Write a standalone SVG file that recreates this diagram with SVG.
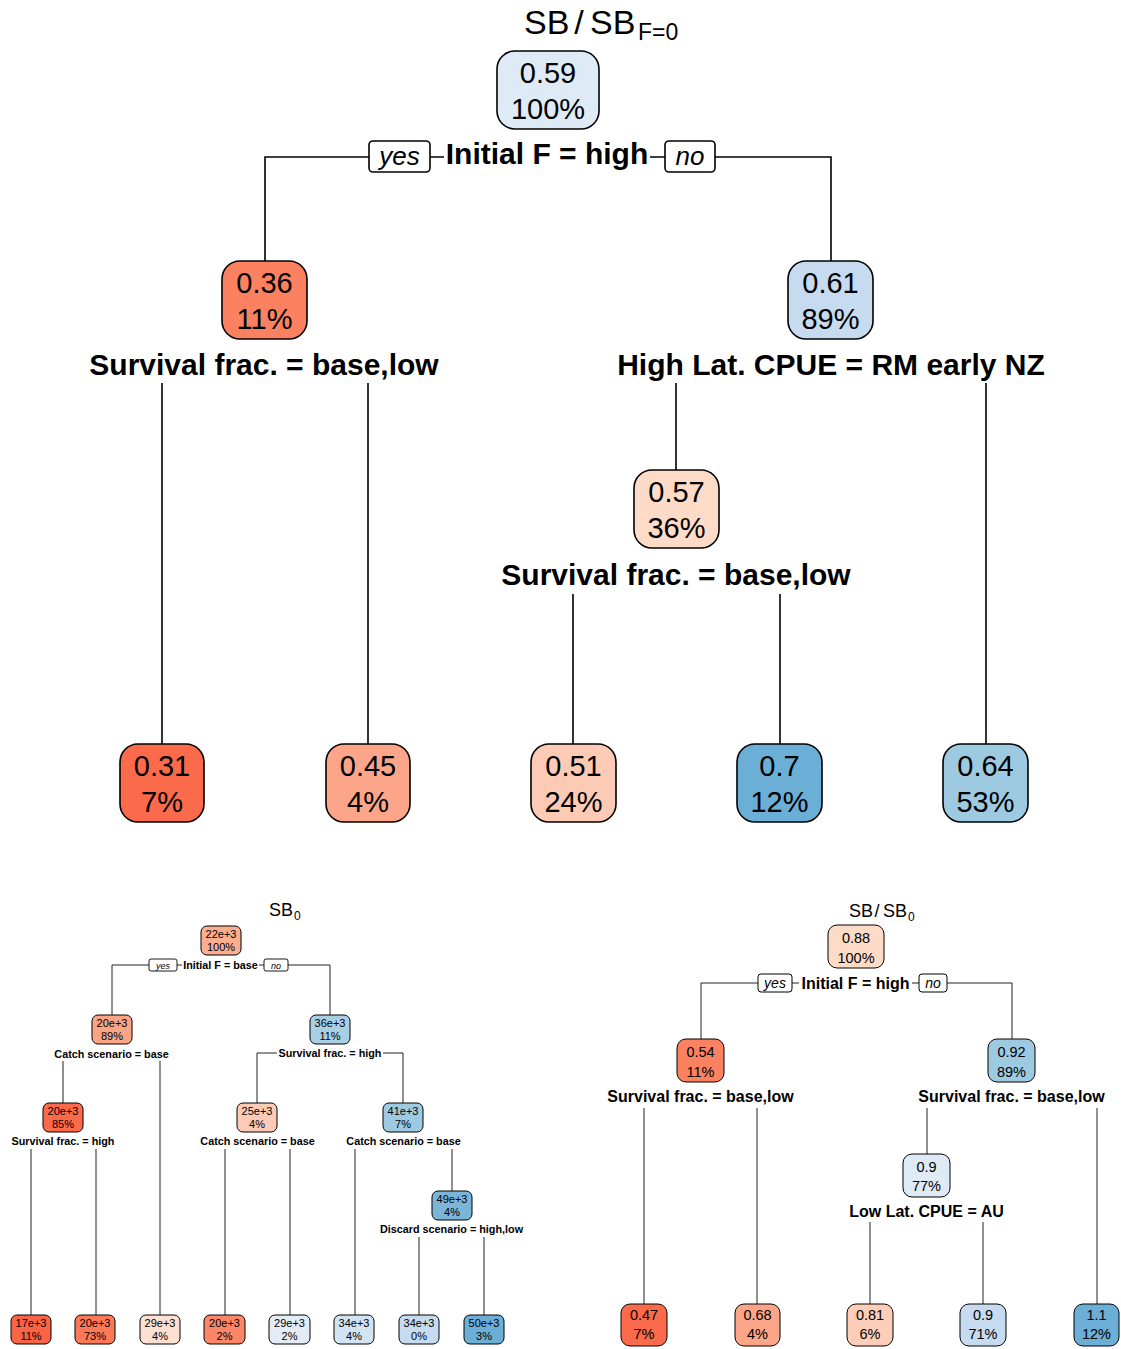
<svg xmlns="http://www.w3.org/2000/svg" width="1121" height="1349" viewBox="0 0 1121 1349">
<style>
text{font-family:"Liberation Sans",Arial,sans-serif;fill:#000}
.c{text-anchor:middle}
.nb rect{stroke:#000;stroke-width:1.6}
.ns rect{stroke:#000;stroke-width:1}
.n1{font-size:29px}
.n2{font-size:11px}
.n3{font-size:14.5px}
.l1{font-size:30px;font-weight:bold}
.l2{font-size:10.8px;font-weight:bold}
.l3{font-size:16px;font-weight:bold}
.yn rect{fill:#fff;stroke:#000}
.yn text{font-style:italic;text-anchor:middle}
.e1 path{fill:none;stroke:#000;stroke-width:1.6}
.e2 path{fill:none;stroke:#222;stroke-width:1}
</style>

<!-- ===== Main tree ===== -->
<g id="title-main">
<text x="524" y="34" font-size="34">SB</text>
<text x="579" y="34" font-size="34" class="c">/</text>
<text x="590" y="34" font-size="34">SB</text>
<text x="638" y="40" font-size="23">F=0</text>
</g>

<g class="e1" id="connectors-main">
<path d="M265 261V157H369M430 157H444M650 157H665M715 157H831V261"/>
<path d="M162 383V744M368 383V744M676 383V470M986 383V744M573 594V744M780 594V744"/>
</g>

<g class="yn" id="yesno-main">
<rect x="369" y="141" width="61" height="31" rx="4" stroke-width="1.6"/>
<text x="399.5" y="165" font-size="26">yes</text>
<rect x="665" y="141" width="50" height="31" rx="4" stroke-width="1.6"/>
<text x="690" y="165" font-size="26">no</text>
</g>

<g id="m-root" class="nb n1">
<rect x="497" y="51" width="102" height="78" rx="18" fill="#DEEBF7"/>
<text x="548" y="83" class="c">0.59</text><text x="548" y="119" class="c">100%</text>
</g>
<text id="m-split1" x="547" y="164" class="c l1">Initial F = high</text>

<g id="m-n2" class="nb n1">
<rect x="222" y="261" width="85" height="78" rx="18" fill="#FC8161"/>
<text x="264.5" y="293" class="c">0.36</text><text x="264.5" y="329" class="c">11%</text>
</g>
<g id="m-n3" class="nb n1">
<rect x="788" y="261" width="85" height="78" rx="18" fill="#C6DBEF"/>
<text x="830.5" y="293" class="c">0.61</text><text x="830.5" y="329" class="c">89%</text>
</g>
<text x="264" y="375" class="c l1">Survival frac. = base,low</text>
<text x="831" y="375" class="c l1">High Lat. CPUE = RM early NZ</text>

<g id="m-n6" class="nb n1">
<rect x="634" y="470" width="85" height="78" rx="18" fill="#FDDBC7"/>
<text x="676.5" y="502" class="c">0.57</text><text x="676.5" y="538" class="c">36%</text>
</g>
<text x="676" y="585" class="c l1">Survival frac. = base,low</text>

<g id="m-leaf1" class="nb n1">
<rect x="120" y="744" width="84" height="78" rx="18" fill="#FB6A4A"/>
<text x="162" y="776" class="c">0.31</text><text x="162" y="812" class="c">7%</text>
</g>
<g id="m-leaf2" class="nb n1">
<rect x="326" y="744" width="84" height="78" rx="18" fill="#FCA588"/>
<text x="368" y="776" class="c">0.45</text><text x="368" y="812" class="c">4%</text>
</g>
<g id="m-leaf3" class="nb n1">
<rect x="531" y="744" width="85" height="78" rx="18" fill="#FDCBB5"/>
<text x="573.5" y="776" class="c">0.51</text><text x="573.5" y="812" class="c">24%</text>
</g>
<g id="m-leaf4" class="nb n1">
<rect x="737" y="744" width="85" height="78" rx="18" fill="#6BAED6"/>
<text x="779.5" y="776" class="c">0.7</text><text x="779.5" y="812" class="c">12%</text>
</g>
<g id="m-leaf5" class="nb n1">
<rect x="943" y="744" width="85" height="78" rx="18" fill="#9ECAE1"/>
<text x="985.5" y="776" class="c">0.64</text><text x="985.5" y="812" class="c">53%</text>
</g>

<!-- ===== Bottom-left tree (SB0) ===== -->
<g id="title-sb0">
<text x="269" y="916" font-size="18">SB</text>
<text x="294" y="920" font-size="12">0</text>
</g>

<g class="e2" id="connectors-sb0">
<path d="M112 1015V965H149M177 965H182M259 965H264M288 965H330V1015"/>
<path d="M63 1061V1103M160 1061V1315"/>
<path d="M257 1103V1053H277M383 1053H403V1103"/>
<path d="M31 1149V1315M96 1149V1315M225 1149V1315M290 1149V1315M355 1149V1315M452 1149V1191"/>
<path d="M419 1237V1315M484 1237V1315"/>
</g>

<g class="yn" id="yesno-sb0">
<rect x="149" y="959" width="28" height="12" rx="2" stroke-width="0.9"/>
<text x="163" y="968.5" font-size="9">yes</text>
<rect x="264" y="959" width="24" height="12" rx="2" stroke-width="0.9"/>
<text x="276" y="968.5" font-size="9">no</text>
</g>

<g id="b-root" class="ns n2">
<rect x="201" y="926" width="40" height="29" rx="6" fill="#FCAE91"/>
<text x="221" y="937.5" class="c">22e+3</text><text x="221" y="951" class="c">100%</text>
</g>
<text x="220.5" y="969" class="c l2">Initial F = base</text>

<g id="b-n2" class="ns n2">
<rect x="92" y="1015" width="40" height="29" rx="6" fill="#FCA486"/>
<text x="112" y="1026.5" class="c">20e+3</text><text x="112" y="1040" class="c">89%</text>
</g>
<g id="b-n3" class="ns n2">
<rect x="310" y="1015" width="40" height="29" rx="6" fill="#A9CFE5"/>
<text x="330" y="1026.5" class="c">36e+3</text><text x="330" y="1040" class="c">11%</text>
</g>
<text x="111.5" y="1058" class="c l2">Catch scenario = base</text>
<text x="330" y="1057" class="c l2">Survival frac. = high</text>

<g id="b-n4" class="ns n2">
<rect x="43" y="1103" width="40" height="29" rx="6" fill="#FB6A4A"/>
<text x="63" y="1114.5" class="c">20e+3</text><text x="63" y="1128" class="c">85%</text>
</g>
<g id="b-n6" class="ns n2">
<rect x="237" y="1103" width="40" height="29" rx="6" fill="#FDCAB5"/>
<text x="257" y="1114.5" class="c">25e+3</text><text x="257" y="1128" class="c">4%</text>
</g>
<g id="b-n7" class="ns n2">
<rect x="383" y="1103" width="40" height="29" rx="6" fill="#9ECAE1"/>
<text x="403" y="1114.5" class="c">41e+3</text><text x="403" y="1128" class="c">7%</text>
</g>
<text x="63" y="1145" class="c l2">Survival frac. = high</text>
<text x="257.5" y="1145" class="c l2">Catch scenario = base</text>
<text x="403.5" y="1145" class="c l2">Catch scenario = base</text>

<g id="b-n15" class="ns n2">
<rect x="432" y="1191" width="40" height="29" rx="6" fill="#7BB6D9"/>
<text x="452" y="1202.5" class="c">49e+3</text><text x="452" y="1216" class="c">4%</text>
</g>
<text x="451.5" y="1233" class="c l2">Discard scenario = high,low</text>

<g id="b-leaf1" class="ns n2">
<rect x="11" y="1315" width="40" height="29" rx="6" fill="#FA6446"/>
<text x="31" y="1326.5" class="c">17e+3</text><text x="31" y="1340" class="c">11%</text>
</g>
<g id="b-leaf2" class="ns n2">
<rect x="75" y="1315" width="40" height="29" rx="6" fill="#FB7858"/>
<text x="95" y="1326.5" class="c">20e+3</text><text x="95" y="1340" class="c">73%</text>
</g>
<g id="b-leaf3" class="ns n2">
<rect x="140" y="1315" width="40" height="29" rx="6" fill="#FEE0D2"/>
<text x="160" y="1326.5" class="c">29e+3</text><text x="160" y="1340" class="c">4%</text>
</g>
<g id="b-leaf4" class="ns n2">
<rect x="204" y="1315" width="41" height="29" rx="6" fill="#FC8666"/>
<text x="224.5" y="1326.5" class="c">20e+3</text><text x="224.5" y="1340" class="c">2%</text>
</g>
<g id="b-leaf5" class="ns n2">
<rect x="269" y="1315" width="41" height="29" rx="6" fill="#E1ECF7"/>
<text x="289.5" y="1326.5" class="c">29e+3</text><text x="289.5" y="1340" class="c">2%</text>
</g>
<g id="b-leaf6" class="ns n2">
<rect x="334" y="1315" width="40" height="29" rx="6" fill="#D2E3F3"/>
<text x="354" y="1326.5" class="c">34e+3</text><text x="354" y="1340" class="c">4%</text>
</g>
<g id="b-leaf7" class="ns n2">
<rect x="399" y="1315" width="40" height="29" rx="6" fill="#C6DBEF"/>
<text x="419" y="1326.5" class="c">34e+3</text><text x="419" y="1340" class="c">0%</text>
</g>
<g id="b-leaf8" class="ns n2">
<rect x="464" y="1315" width="40" height="29" rx="6" fill="#6BAED6"/>
<text x="484" y="1326.5" class="c">50e+3</text><text x="484" y="1340" class="c">3%</text>
</g>

<!-- ===== Bottom-right tree (SB/SB0) ===== -->
<g id="title-sbsb0">
<text x="849" y="917" font-size="18">SB</text>
<text x="877" y="917" font-size="18" class="c">/</text>
<text x="883" y="917" font-size="18">SB</text>
<text x="908" y="921" font-size="12">0</text>
</g>

<g class="e2" id="connectors-sbsb0">
<path d="M701 1039V983H758M792 983H799M912 983H919M947 983H1012V1039"/>
<path d="M644 1108V1304M757 1108V1304M927 1108V1154M1097 1108V1304"/>
<path d="M870 1222V1304M983 1222V1304"/>
</g>

<g class="yn" id="yesno-sbsb0">
<rect x="758" y="974" width="34" height="18" rx="3" stroke-width="1"/>
<text x="775" y="988" font-size="14">yes</text>
<rect x="919" y="974" width="28" height="18" rx="3" stroke-width="1"/>
<text x="933" y="988" font-size="14">no</text>
</g>

<g id="r-root" class="ns n3">
<rect x="828" y="925" width="56" height="43" rx="9" fill="#FDDBC7"/>
<text x="856" y="943" class="c">0.88</text><text x="856" y="963" class="c">100%</text>
</g>
<text x="855.5" y="989" class="c l3">Initial F = high</text>

<g id="r-n2" class="ns n3">
<rect x="677" y="1039" width="47" height="43" rx="9" fill="#FC8161"/>
<text x="700.5" y="1057" class="c">0.54</text><text x="700.5" y="1077" class="c">11%</text>
</g>
<g id="r-n3" class="ns n3">
<rect x="988" y="1039" width="47" height="43" rx="9" fill="#9ECAE1"/>
<text x="1011.5" y="1057" class="c">0.92</text><text x="1011.5" y="1077" class="c">89%</text>
</g>
<text x="700.5" y="1102" class="c l3">Survival frac. = base,low</text>
<text x="1011.5" y="1102" class="c l3">Survival frac. = base,low</text>

<g id="r-n6" class="ns n3">
<rect x="903" y="1154" width="47" height="43" rx="9" fill="#DEEBF7"/>
<text x="926.5" y="1172" class="c">0.9</text><text x="926.5" y="1191" class="c">77%</text>
</g>
<text x="926.5" y="1217" class="c l3">Low Lat. CPUE = AU</text>

<g id="r-leaf1" class="ns n3">
<rect x="621" y="1304" width="46" height="42" rx="9" fill="#FB6A4A"/>
<text x="644" y="1320" class="c">0.47</text><text x="644" y="1339" class="c">7%</text>
</g>
<g id="r-leaf2" class="ns n3">
<rect x="735" y="1304" width="45" height="42" rx="9" fill="#FCA588"/>
<text x="757.5" y="1320" class="c">0.68</text><text x="757.5" y="1339" class="c">4%</text>
</g>
<g id="r-leaf3" class="ns n3">
<rect x="847" y="1304" width="46" height="42" rx="9" fill="#FDCDB8"/>
<text x="870" y="1320" class="c">0.81</text><text x="870" y="1339" class="c">6%</text>
</g>
<g id="r-leaf4" class="ns n3">
<rect x="960" y="1304" width="46" height="42" rx="9" fill="#C6DBEF"/>
<text x="983" y="1320" class="c">0.9</text><text x="983" y="1339" class="c">71%</text>
</g>
<g id="r-leaf5" class="ns n3">
<rect x="1074" y="1304" width="45" height="42" rx="9" fill="#6BAED6"/>
<text x="1096.5" y="1320" class="c">1.1</text><text x="1096.5" y="1339" class="c">12%</text>
</g>
</svg>
